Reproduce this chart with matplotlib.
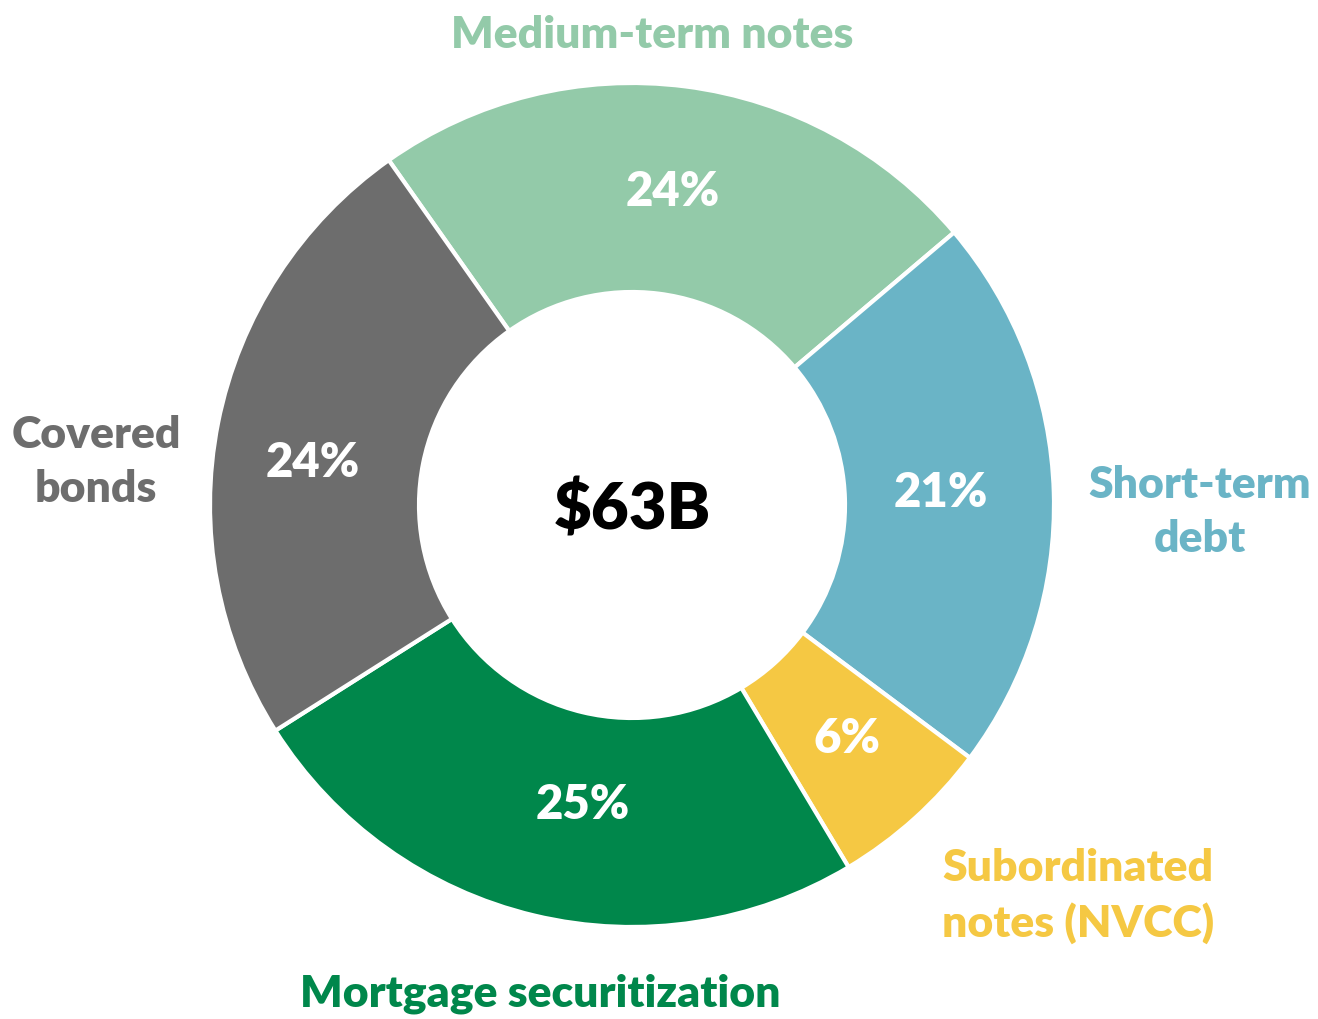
import matplotlib.pyplot as plt

categories = ["Medium-term notes", "Short-term debt", "Subordinated notes (NVCC)",
              "Mortgage securitization", "Covered bonds"]
shares = [23.6, 21.4, 6.2, 24.6, 24.2]
colors = ["#93CAA9", "#6AB4C6", "#F5C843", "#00874B", "#6D6D6D"]
total_label = "$63B"

# label text, anchor (pixel coords from top-left)
label_text = ["Medium-term notes", "Short-term\ndebt", "Subordinated\nnotes (NVCC)",
              "Mortgage securitization", "Covered\nbonds"]
label_pos = [(652, 35), (1200, 512), (1078, 896), (540, 994), (96, 462)]
# small nudges of the % labels (pixels, +x right, +y up)
pct_nudge = [(1, -1), (-8, 3), (3, 1), (24, 8), (-9, -20)]

W, H = 1318, 1019
FONT = "Lato"

fig = plt.figure(figsize=(W / 100, H / 100), dpi=100)
ax = fig.add_axes([0, 0, 1, 1])
ax.set_xlim(0, W)
ax.set_ylim(0, H)
ax.set_aspect("equal")
ax.axis("off")

wedges, texts, autotexts = ax.pie(
    shares, colors=colors, startangle=125.2, counterclock=False,
    center=(632, H - 505), radius=422, autopct="%.0f%%", pctdistance=0.75,
    wedgeprops=dict(width=209, edgecolor="white", linewidth=3),
    textprops=dict(color="white", fontsize=34, fontweight="heavy", family=FONT),
)
for t, (dx, dy) in zip(autotexts, pct_nudge):
    x, y = t.get_position()
    t.set_position((x + dx, y + dy))
ax.set_xlim(0, W)
ax.set_ylim(0, H)

ax.text(632, H - 510, total_label, ha="center", va="center", fontsize=47,
        fontweight="heavy", family=FONT, color="black")

for txt, (px, py), c in zip(label_text, label_pos, colors):
    ax.text(px, H - py, txt, ha="center", va="center", fontsize=32,
            fontweight="heavy", family=FONT, color=c, linespacing=1.42)

fig.savefig("out.png", dpi=100)
